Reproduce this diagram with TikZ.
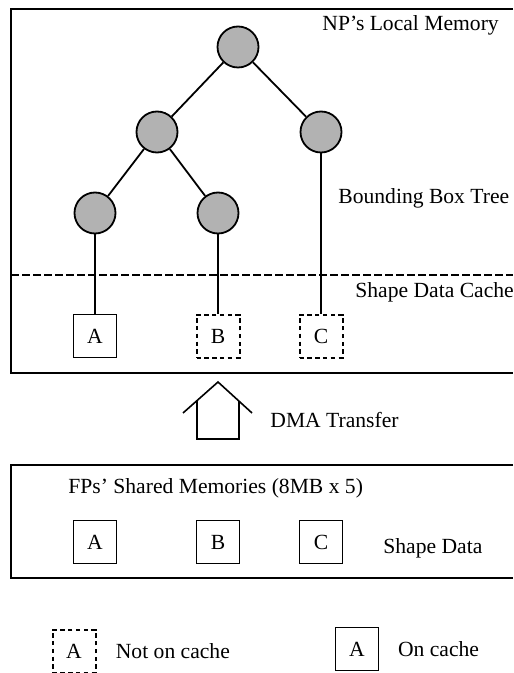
\documentclass[tikz,border=0pt]{standalone}
\usepackage{fontspec}
\setmainfont{Liberation Serif}
\usetikzlibrary{positioning}

\begin{document}
\begin{tikzpicture}[
      x=0.5pt, y=-0.5pt, font=\fontsize{10.8}{12}\selectfont,
      bbnode/.style={draw,circle,fill=black!30,line width=0.9pt,minimum size=20.5pt,inner sep=0pt},
      shapebox/.style={draw,line width=0.8pt,minimum size=21.5pt,inner sep=0pt},
      missbox/.style={shapebox,line width=1pt,dash pattern=on 2.2pt off 1.7pt},
      link/.style={draw,line width=0.9pt},
      memframe/.style={draw,line width=0.7pt},
      memlabel/.style={anchor=west,inner sep=0pt}
      ]

      \path[use as bounding box] (0,0) rectangle (513,673);

      % NP's local memory
      \path[memframe] (513,9) -- (11,9) -- (11,373) -- (513,373);
      \path[draw,line width=0.7pt,dash pattern=on 4pt off 1.5pt] (11,275) -- (513,275);
      \node[memlabel] (np-label) at (322,25) {NP's Local Memory};
      \node[memlabel] (tree-label) at (338,198) {Bounding Box Tree};
      \node[memlabel] (cache-label) at (355,292) {Shape Data Cache};

      \node[bbnode] (root) at (238,47) {};
      \node[bbnode] (left) at (157,132) {};
      \node[bbnode] (right) at (321,132) {};
      \node[bbnode] (left-left) at (95,213) {};
      \node[bbnode] (left-right) at (218,213) {};

      \node[shapebox] (cache-a) at (95,336) {A};
      \node[missbox] (cache-b) at (218,336) {B};
      \node[missbox] (cache-c) at (321,336) {C};

      \path[link] (root) -- (left);
      \path[link] (root) -- (right);
      \path[link] (left) -- (left-left);
      \path[link] (left) -- (left-right);
      \path[link] (left-left) -- (cache-a);
      \path[link] (left-right) -- (cache-b);
      \path[link] (right) -- (cache-c);

      % DMA
      \path[draw,line width=0.8pt] (183,413) -- (218,382) -- (252,413)
            (197,401) -- (197,439) -- (239,439) -- (239,401);
      \node[memlabel] (dma-label) at (270,420) {DMA Transfer};

      % FPs' shared memories
      \path[memframe] (513,465) -- (11,465) -- (11,578) -- (513,578);
      \node[memlabel] (fp-label) at (68,488) {FPs' Shared Memories (8MB x 5)};
      \node[shapebox] (shared-a) at (95,542) {A};
      \node[shapebox] (shared-b) at (218,542) {B};
      \node[shapebox] (shared-c) at (321,542) {C};
      \node[memlabel] (data-label) at (383,548) {Shape Data};

      % legende
      \node[missbox] (legend-miss) at (74,651) {A};
      \node[memlabel,right=9.5pt of legend-miss] (miss-label) {Not on cache};
      \node[shapebox] (legend-hit) at (357,649) {A};
      \node[memlabel,right=9.2pt of legend-hit] (hit-label) {On cache};
    \end{tikzpicture}
\end{document}
